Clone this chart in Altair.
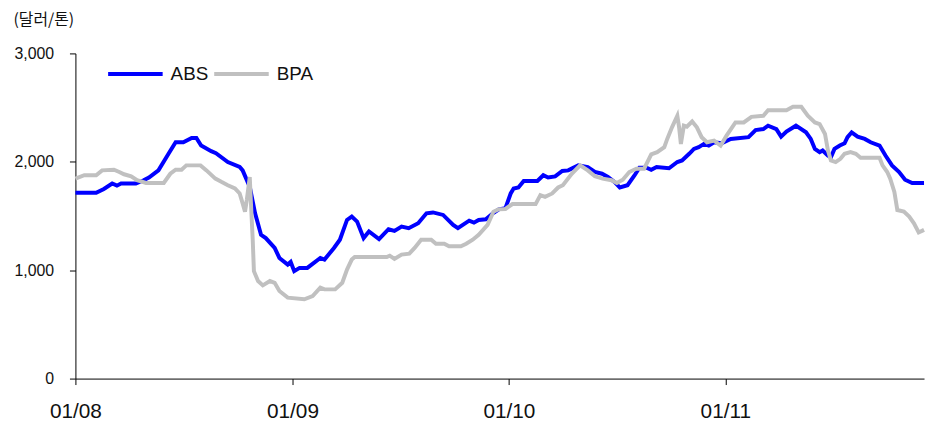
import altair as alt
import pandas as pd

# days since 2008-01-01 and price (USD/ton)
abs_days = [0, 35, 48, 62, 70, 77, 102, 115, 124, 140, 157, 169, 182, 196, 204, 212, 229, 237, 257, 277,
            282, 294, 303, 313, 321, 336, 344, 358, 363, 369, 378, 391, 413, 420, 436, 446, 458, 466, 475, 486,
            495, 512, 528, 538, 550, 562, 578, 592, 603, 620, 637, 645, 664, 672, 680, 692, 704, 714, 725, 734,
            739, 747, 756, 779, 789, 797, 809, 821, 831, 848, 864, 876, 888, 898, 909, 918, 931, 943, 951, 963,
            971, 980, 1001, 1015, 1023, 1035, 1043, 1051, 1060, 1068, 1077, 1090, 1105, 1135, 1147, 1160, 1168, 1182, 1190, 1199,
            1215, 1232, 1240, 1247, 1255, 1260, 1269, 1274, 1280, 1289, 1297, 1302, 1309, 1319, 1331, 1341, 1356, 1366, 1377, 1389,
            1399, 1411, 1431]
abs_vals = [1714, 1714, 1750, 1800, 1780, 1800, 1800, 1830, 1855, 1921, 2074, 2180, 2180, 2220, 2220, 2150, 2098, 2080, 1998, 1952,
            1921, 1769, 1525, 1327, 1296, 1205, 1113, 1052, 1076, 991, 1021, 1021, 1113, 1098, 1205, 1281, 1464, 1494, 1448, 1296,
            1357, 1287, 1378, 1363, 1403, 1388, 1433, 1525, 1533, 1510, 1418, 1388, 1457, 1439, 1464, 1470, 1525, 1562, 1571, 1708,
            1754, 1763, 1823, 1823, 1876, 1855, 1866, 1915, 1921, 1967, 1952, 1906, 1890, 1860, 1815, 1763, 1784, 1876, 1946, 1946,
            1927, 1952, 1940, 1998, 2013, 2074, 2119, 2135, 2165, 2150, 2180, 2171, 2211, 2227, 2293, 2302, 2333, 2302, 2232, 2280,
            2333, 2272, 2211, 2119, 2089, 2104, 2058, 2043, 2119, 2150, 2171, 2227, 2272, 2232, 2211, 2180, 2150, 2058, 1967, 1906,
            1835, 1805, 1805]

bpa_days = [0, 15, 35, 45, 65, 74, 82, 94, 104, 119, 149, 160, 169, 179, 187, 211, 221, 236, 246, 257,
            269, 277, 282, 286, 289, 294, 296, 299, 301, 308, 316, 328, 336, 344, 358, 386, 400, 413, 420, 438,
            450, 458, 466, 471, 525, 530, 538, 550, 563, 572, 583, 600, 608, 622, 630, 650, 659, 670, 680, 695,
            705, 714, 725, 737, 776, 784, 792, 804, 814, 822, 837, 851, 864, 876, 889, 904, 913, 923, 934, 946,
            959, 971, 981, 993, 998, 1006, 1015, 1018, 1021, 1026, 1031, 1040, 1048, 1056, 1065, 1077, 1088, 1098, 1113, 1127,
            1140, 1160, 1168, 1199, 1210, 1224, 1235, 1247, 1255, 1264, 1269, 1274, 1282, 1290, 1297, 1307, 1316, 1324, 1356, 1361,
            1369, 1374, 1381, 1386, 1397, 1406, 1414, 1422, 1431]
bpa_vals = [1845, 1876, 1876, 1921, 1927, 1906, 1885, 1866, 1830, 1805, 1805, 1890, 1927, 1927, 1967, 1967, 1921, 1845, 1815, 1784,
            1754, 1708, 1616, 1540, 1647, 1860, 1616, 1281, 991, 900, 860, 900, 884, 808, 747, 732, 762, 839, 823, 823,
            884, 1006, 1098, 1122, 1122, 1134, 1104, 1144, 1153, 1205, 1281, 1281, 1244, 1244, 1220, 1220, 1244, 1281, 1327, 1418,
            1540, 1562, 1565, 1610, 1610, 1693, 1677, 1708, 1763, 1784, 1890, 1967, 1921, 1866, 1845, 1830, 1805, 1835, 1906, 1936,
            1936, 2068, 2089, 2135, 2211, 2318, 2425, 2318, 2165, 2333, 2324, 2372, 2318, 2227, 2180, 2196, 2150, 2241, 2363, 2363,
            2415, 2425, 2476, 2476, 2507, 2507, 2425, 2363, 2348, 2257, 2104, 2013, 1998, 2028, 2074, 2089, 2074, 2037, 2037, 1967,
            1906, 1845, 1723, 1555, 1540, 1494, 1433, 1348, 1372]

series_names = ["ABS", "BPA"]
series_colors = ["#0000FF", "#C0C0C0"]
x_tick_years = [2008, 2009, 2010, 2011]
y_ticks = [0, 1000, 2000, 3000]

start = pd.Timestamp("2008-01-01")


def to_frame(days, vals, name):
    dates = [(start + pd.Timedelta(days=d)).strftime("%Y-%m-%dT00:00:00") for d in days]
    return pd.DataFrame({"date": dates, "value": vals, "series": name})


df = pd.concat([to_frame(abs_days, abs_vals, "ABS"), to_frame(bpa_days, bpa_vals, "BPA")], ignore_index=True)

FONT = "Liberation Sans"

chart = alt.Chart(df).mark_line(strokeWidth=4, interpolate="linear").encode(
    x=alt.X(
        "date:T",
        scale=alt.Scale(domain=[alt.DateTime(year=2008, month=1, date=1), alt.DateTime(year=2011, month=12, date=2)]),
        axis=alt.Axis(
            title=None,
            values=[alt.DateTime(year=y, month=1, date=1) for y in x_tick_years],
            format="%m/%y",
            grid=False,
            domainColor="#000000",
            tickColor="#000000",
            tickSize=6,
            labelFont=FONT,
            labelFontSize=21,
            labelColor="#111111",
            labelPadding=16,
            labelFlush=False,
        ),
    ),
    y=alt.Y(
        "value:Q",
        scale=alt.Scale(domain=[0, 3000]),
        axis=alt.Axis(
            title="(달러/톤)",
            titleAngle=0,
            titleAlign="left",
            titleBaseline="alphabetic",
            titleX=-63,
            titleY=-29,
            titleFont="Noto Sans CJK KR",
            titleFontSize=16,
            titleFontWeight="normal",
            titleColor="#111111",
            values=y_ticks,
            format=",d",
            grid=False,
            domainColor="#000000",
            tickColor="#000000",
            tickSize=6,
            labelFont=FONT,
            labelFontSize=16,
            labelColor="#111111",
            labelPadding=16,
            labelFlush=False,
        ),
    ),
    color=alt.Color(
        "series:N",
        scale=alt.Scale(domain=series_names, range=series_colors),
        legend=alt.Legend(
            title=None,
            orient="none",
            legendX=31,
            legendY=-9,
            direction="horizontal",
            symbolType="stroke",
            symbolSize=3025,
            symbolStrokeWidth=4,
            labelFont=FONT,
            labelFontSize=19,
            labelColor="#111111",
            labelOffset=6,
            columnPadding=-3,
            padding=0,
        ),
    ),
    order=alt.Order("date:T"),
).properties(
    width=856,
    height=328,
    autosize=alt.AutoSizeParams(type="none"),
    padding={"left": 68, "top": 44, "right": 3, "bottom": 45},
).configure_view(stroke=None).configure_axis(domainWidth=1, tickWidth=1)

chart.save("out.html", embed_options={"renderer": "svg", "actions": False})
